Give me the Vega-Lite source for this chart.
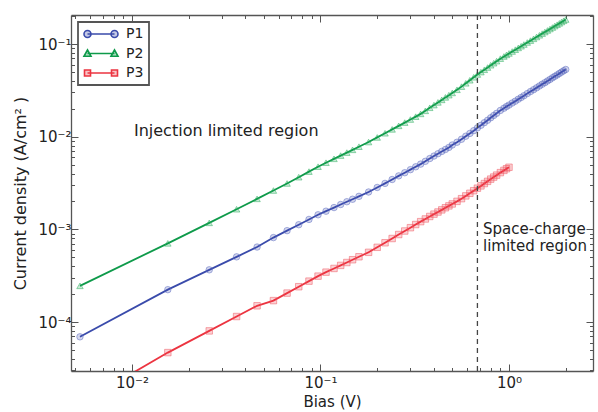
{
  "$schema": "https://vega.github.io/schema/vega-lite/v6.json",
  "width": 522,
  "height": 356,
  "autosize": {"type": "none"},
  "padding": {"left": 71, "top": 15, "right": 5, "bottom": 41},
  "background": "white",
  "config": {"view": {"stroke": null}, "font": "DejaVu Sans"},
  "datasets": {
    "curves": [
      {"series":"P1","bias":0.0053,"density":6.92e-5},{"series":"P1","bias":0.0155,"density":2.234e-4},{"series":"P1","bias":0.0257,"density":3.656e-4},{"series":"P1","bias":0.0359,"density":5.047e-4},{"series":"P1","bias":0.0461,"density":6.442e-4},{"series":"P1","bias":0.0563,"density":8.147e-4},{"series":"P1","bias":0.0665,"density":9.683e-4},{"series":"P1","bias":0.0767,"density":1.122e-3},{"series":"P1","bias":0.0869,"density":1.279e-3},{"series":"P1","bias":0.0971,"density":1.436e-3},{"series":"P1","bias":0.107,"density":1.570e-3},{"series":"P1","bias":0.118,"density":1.718e-3},{"series":"P1","bias":0.128,"density":1.854e-3},{"series":"P1","bias":0.138,"density":1.986e-3},{"series":"P1","bias":0.148,"density":2.113e-3},{"series":"P1","bias":0.16,"density":2.270e-3},{"series":"P1","bias":0.18,"density":2.529e-3},{"series":"P1","bias":0.2,"density":2.831e-3},{"series":"P1","bias":0.22,"density":3.133e-3},{"series":"P1","bias":0.24,"density":3.451e-3},{"series":"P1","bias":0.26,"density":3.776e-3},{"series":"P1","bias":0.28,"density":4.083e-3},{"series":"P1","bias":0.3,"density":4.406e-3},{"series":"P1","bias":0.32,"density":4.732e-3},{"series":"P1","bias":0.34,"density":5.058e-3},{"series":"P1","bias":0.36,"density":5.420e-3},{"series":"P1","bias":0.38,"density":5.808e-3},{"series":"P1","bias":0.4,"density":6.180e-3},{"series":"P1","bias":0.42,"density":6.546e-3},{"series":"P1","bias":0.44,"density":6.934e-3},{"series":"P1","bias":0.46,"density":7.278e-3},{"series":"P1","bias":0.48,"density":7.656e-3},{"series":"P1","bias":0.5,"density":8.128e-3},{"series":"P1","bias":0.53,"density":8.710e-3},{"series":"P1","bias":0.56,"density":9.376e-3},{"series":"P1","bias":0.59,"density":1.012e-2},{"series":"P1","bias":0.62,"density":1.084e-2},{"series":"P1","bias":0.65,"density":1.161e-2},{"series":"P1","bias":0.68,"density":1.245e-2},{"series":"P1","bias":0.71,"density":1.327e-2},{"series":"P1","bias":0.74,"density":1.416e-2},{"series":"P1","bias":0.77,"density":1.503e-2},{"series":"P1","bias":0.8,"density":1.600e-2},{"series":"P1","bias":0.83,"density":1.694e-2},{"series":"P1","bias":0.86,"density":1.786e-2},{"series":"P1","bias":0.9,"density":1.919e-2},{"series":"P1","bias":0.94,"density":2.028e-2},{"series":"P1","bias":0.97,"density":2.113e-2},{"series":"P1","bias":1.0,"density":2.193e-2},{"series":"P1","bias":1.04,"density":2.307e-2},{"series":"P1","bias":1.08,"density":2.415e-2},{"series":"P1","bias":1.12,"density":2.535e-2},{"series":"P1","bias":1.16,"density":2.649e-2},{"series":"P1","bias":1.2,"density":2.767e-2},{"series":"P1","bias":1.25,"density":2.917e-2},{"series":"P1","bias":1.3,"density":3.069e-2},{"series":"P1","bias":1.35,"density":3.214e-2},{"series":"P1","bias":1.4,"density":3.365e-2},{"series":"P1","bias":1.45,"density":3.524e-2},{"series":"P1","bias":1.5,"density":3.681e-2},{"series":"P1","bias":1.55,"density":3.828e-2},{"series":"P1","bias":1.6,"density":3.990e-2},{"series":"P1","bias":1.65,"density":4.150e-2},{"series":"P1","bias":1.7,"density":4.315e-2},{"series":"P1","bias":1.75,"density":4.477e-2},{"series":"P1","bias":1.8,"density":4.634e-2},{"series":"P1","bias":1.85,"density":4.808e-2},{"series":"P1","bias":1.9,"density":4.977e-2},{"series":"P1","bias":1.95,"density":5.140e-2},{"series":"P1","bias":2.0,"density":5.309e-2},
      {"series":"P2","bias":0.0053,"density":2.455e-4},{"series":"P2","bias":0.0155,"density":7.06e-4},{"series":"P2","bias":0.0257,"density":1.175e-3},{"series":"P2","bias":0.0359,"density":1.648e-3},{"series":"P2","bias":0.0461,"density":2.133e-3},{"series":"P2","bias":0.0563,"density":2.624e-3},{"series":"P2","bias":0.0665,"density":3.126e-3},{"series":"P2","bias":0.0767,"density":3.656e-3},{"series":"P2","bias":0.0869,"density":4.198e-3},{"series":"P2","bias":0.0971,"density":4.742e-3},{"series":"P2","bias":0.107,"density":5.236e-3},{"series":"P2","bias":0.118,"density":5.768e-3},{"series":"P2","bias":0.128,"density":6.252e-3},{"series":"P2","bias":0.138,"density":6.730e-3},{"series":"P2","bias":0.148,"density":7.211e-3},{"series":"P2","bias":0.16,"density":7.798e-3},{"series":"P2","bias":0.18,"density":8.750e-3},{"series":"P2","bias":0.2,"density":9.817e-3},{"series":"P2","bias":0.22,"density":1.089e-2},{"series":"P2","bias":0.24,"density":1.199e-2},{"series":"P2","bias":0.26,"density":1.309e-2},{"series":"P2","bias":0.28,"density":1.419e-2},{"series":"P2","bias":0.3,"density":1.531e-2},{"series":"P2","bias":0.32,"density":1.644e-2},{"series":"P2","bias":0.34,"density":1.762e-2},{"series":"P2","bias":0.36,"density":1.901e-2},{"series":"P2","bias":0.38,"density":2.051e-2},{"series":"P2","bias":0.4,"density":2.193e-2},{"series":"P2","bias":0.42,"density":2.344e-2},{"series":"P2","bias":0.44,"density":2.495e-2},{"series":"P2","bias":0.46,"density":2.655e-2},{"series":"P2","bias":0.48,"density":2.805e-2},{"series":"P2","bias":0.5,"density":2.965e-2},{"series":"P2","bias":0.53,"density":3.206e-2},{"series":"P2","bias":0.56,"density":3.467e-2},{"series":"P2","bias":0.59,"density":3.767e-2},{"series":"P2","bias":0.62,"density":4.064e-2},{"series":"P2","bias":0.65,"density":4.375e-2},{"series":"P2","bias":0.68,"density":4.688e-2},{"series":"P2","bias":0.71,"density":4.977e-2},{"series":"P2","bias":0.74,"density":5.272e-2},{"series":"P2","bias":0.77,"density":5.572e-2},{"series":"P2","bias":0.8,"density":5.902e-2},{"series":"P2","bias":0.83,"density":6.209e-2},{"series":"P2","bias":0.86,"density":6.531e-2},{"series":"P2","bias":0.9,"density":6.950e-2},{"series":"P2","bias":0.94,"density":7.337e-2},{"series":"P2","bias":0.97,"density":7.630e-2},{"series":"P2","bias":1.0,"density":7.912e-2},{"series":"P2","bias":1.04,"density":8.299e-2},{"series":"P2","bias":1.08,"density":8.679e-2},{"series":"P2","bias":1.12,"density":9.076e-2},{"series":"P2","bias":1.16,"density":9.462e-2},{"series":"P2","bias":1.2,"density":9.870e-2},{"series":"P2","bias":1.25,"density":0.1038},{"series":"P2","bias":1.3,"density":0.1088},{"series":"P2","bias":1.35,"density":0.1138},{"series":"P2","bias":1.4,"density":0.1190},{"series":"P2","bias":1.45,"density":0.1241},{"series":"P2","bias":1.5,"density":0.1295},{"series":"P2","bias":1.55,"density":0.1347},{"series":"P2","bias":1.6,"density":0.1400},{"series":"P2","bias":1.65,"density":0.1452},{"series":"P2","bias":1.7,"density":0.1506},{"series":"P2","bias":1.75,"density":0.1562},{"series":"P2","bias":1.8,"density":0.1615},{"series":"P2","bias":1.85,"density":0.1670},{"series":"P2","bias":1.9,"density":0.1727},{"series":"P2","bias":1.95,"density":0.1781},{"series":"P2","bias":2.0,"density":0.1837},
      {"series":"P3","bias":0.0053,"density":1.318e-5},{"series":"P3","bias":0.0155,"density":4.677e-5},{"series":"P3","bias":0.0257,"density":8.017e-5},{"series":"P3","bias":0.0359,"density":1.146e-4},{"series":"P3","bias":0.0461,"density":1.496e-4},{"series":"P3","bias":0.0563,"density":1.702e-4},{"series":"P3","bias":0.0665,"density":2.051e-4},{"series":"P3","bias":0.0767,"density":2.404e-4},{"series":"P3","bias":0.0869,"density":2.761e-4},{"series":"P3","bias":0.0971,"density":3.126e-4},{"series":"P3","bias":0.107,"density":3.451e-4},{"series":"P3","bias":0.118,"density":3.784e-4},{"series":"P3","bias":0.128,"density":4.083e-4},{"series":"P3","bias":0.138,"density":4.385e-4},{"series":"P3","bias":0.148,"density":4.699e-4},{"series":"P3","bias":0.16,"density":5.058e-4},{"series":"P3","bias":0.18,"density":5.649e-4},{"series":"P3","bias":0.2,"density":6.397e-4},{"series":"P3","bias":0.22,"density":7.161e-4},{"series":"P3","bias":0.24,"density":7.962e-4},{"series":"P3","bias":0.26,"density":8.790e-4},{"series":"P3","bias":0.28,"density":9.594e-4},{"series":"P3","bias":0.3,"density":1.042e-3},{"series":"P3","bias":0.32,"density":1.127e-3},{"series":"P3","bias":0.34,"density":1.211e-3},{"series":"P3","bias":0.36,"density":1.294e-3},{"series":"P3","bias":0.38,"density":1.377e-3},{"series":"P3","bias":0.4,"density":1.459e-3},{"series":"P3","bias":0.42,"density":1.538e-3},{"series":"P3","bias":0.44,"density":1.622e-3},{"series":"P3","bias":0.46,"density":1.710e-3},{"series":"P3","bias":0.48,"density":1.791e-3},{"series":"P3","bias":0.5,"density":1.879e-3},{"series":"P3","bias":0.53,"density":2.004e-3},{"series":"P3","bias":0.56,"density":2.143e-3},{"series":"P3","bias":0.59,"density":2.296e-3},{"series":"P3","bias":0.62,"density":2.449e-3},{"series":"P3","bias":0.65,"density":2.612e-3},{"series":"P3","bias":0.68,"density":2.780e-3},{"series":"P3","bias":0.71,"density":2.944e-3},{"series":"P3","bias":0.74,"density":3.119e-3},{"series":"P3","bias":0.77,"density":3.296e-3},{"series":"P3","bias":0.8,"density":3.483e-3},{"series":"P3","bias":0.83,"density":3.664e-3},{"series":"P3","bias":0.86,"density":3.846e-3},{"series":"P3","bias":0.9,"density":4.093e-3},{"series":"P3","bias":0.94,"density":4.325e-3},{"series":"P3","bias":0.97,"density":4.508e-3},{"series":"P3","bias":1.0,"density":4.677e-3}
    ],
    "notes": [
      {"bias": 0.01025, "density": 0.0115, "label": "Injection limited region", "size": 16},
      {"bias": 0.728, "density": 0.00102, "label": "Space-charge", "size": 15},
      {"bias": 0.728, "density": 0.000655, "label": "limited region", "size": 15}
    ],
    "divider": [{"bias": 0.68}]
  },
  "layer": [
    {
      "data": {"name": "curves"},
      "mark": {"type": "line", "strokeWidth": 1.8, "clip": true},
      "encoding": {
        "x": {
          "field": "bias", "type": "quantitative",
          "scale": {"type": "log", "domain": [0.00475, 2.79], "nice": false},
          "axis": {
            "orient": "bottom",
            "values": [0.005,0.006,0.007,0.008,0.009,0.01,0.02,0.03,0.04,0.05,0.06,0.07,0.08,0.09,0.1,0.2,0.3,0.4,0.5,0.6,0.7,0.8,0.9,1,2],
            "labelExpr": "datum.value === 0.01 ? '10⁻²' : datum.value === 0.1 ? '10⁻¹' : datum.value === 1 ? '10⁰' : ''",
            "labelFontSize": 15, "labelColor": "#222", "labelPadding": 11, "labelFlush": false, "labelOverlap": false, "labelBound": false,
            "tickSize": {"condition": {"test": "indexof([0.01,0.1,1], datum.value) >= 0", "value": -7}, "value": -3.5},
            "tickColor": "#555", "tickWidth": 1,
            "domainColor": "#555", "domainWidth": 1.3, "grid": false,
            "title": "Bias (V)", "titleFontSize": 15, "titleFontWeight": "normal", "titleColor": "#222", "titlePadding": 1
          }
        },
        "y": {
          "field": "density", "type": "quantitative",
          "scale": {"type": "log", "domain": [2.96e-5, 0.2056], "nice": false},
          "axis": {
            "orient": "left",
            "values": [3e-5,4e-5,5e-5,6e-5,7e-5,8e-5,9e-5,1e-4,2e-4,3e-4,4e-4,5e-4,6e-4,7e-4,8e-4,9e-4,1e-3,2e-3,3e-3,4e-3,5e-3,6e-3,7e-3,8e-3,9e-3,0.01,0.02,0.03,0.04,0.05,0.06,0.07,0.08,0.09,0.1,0.2],
            "labelExpr": "datum.value === 0.1 ? '10⁻¹' : datum.value === 0.01 ? '10⁻²' : datum.value === 0.001 ? '10⁻³' : datum.value === 0.0001 ? '10⁻⁴' : ''",
            "labelFontSize": 15, "labelColor": "#222", "labelPadding": 7, "labelFlush": false, "labelOverlap": false, "labelBound": false,
            "tickSize": {"condition": {"test": "indexof([0.0001,0.001,0.01,0.1], datum.value) >= 0", "value": -7}, "value": -3.5},
            "tickColor": "#555", "tickWidth": 1,
            "domainColor": "#555", "domainWidth": 1.3, "grid": false,
            "title": "Current density (A/cm² )", "titleFontSize": 16, "titleFontWeight": "normal", "titleColor": "#222", "titlePadding": 9
          }
        },
        "color": {
          "field": "series", "type": "nominal",
          "scale": {"domain": ["P1", "P2", "P3"], "range": ["#3a4bab", "#0e9a4a", "#ec3440"]},
          "legend": {
            "title": null, "orient": "top-left", "offset": 7, "padding": 5,
            "strokeColor": "#555", "fillColor": "white", "cornerRadius": 0,
            "symbolSize": 100, "labelOffset": 29, "rowPadding": 5.5,
            "labelFontSize": 14, "labelColor": "#222",
            "encode": {
              "legend": {"update": {"strokeWidth": {"value": 1.8}}},
              "symbols": {"update": {
                "shape": {"signal": "datum.value === 'P1' ? 'M-0.5,0H4.9M-1.2,0A0.7,0.7 0 1,0 0.2,0A0.7,0.7 0 1,0 -1.2,0M4.2,0A0.7,0.7 0 1,0 5.6,0A0.7,0.7 0 1,0 4.2,0' : datum.value === 'P2' ? 'M-0.5,0H4.9M-1.2,0.55L-0.5,-0.7L0.2,0.55ZM4.2,0.55L4.9,-0.7L5.6,0.55Z' : 'M-0.5,0H4.9M-1.1,-0.6H0.1V0.6H-1.1ZM4.3,-0.6H5.5V0.6H4.3Z'"},
                "fill": {"scale": "color", "field": "value"},
                "fillOpacity": {"value": 0.3},
                "stroke": {"scale": "color", "field": "value"},
                "strokeWidth": {"value": 1.6},
                "opacity": {"value": 1}
              }}
            }
          }
        }
      }
    },
    {
      "data": {"name": "curves"},
      "transform": [{"filter": "datum.series === 'P1'"}],
      "mark": {"type": "point", "shape": "circle", "filled": true, "size": 42, "fill": "#3a4bab", "fillOpacity": 0.22, "stroke": "#5a6ac0", "strokeOpacity": 0.5, "strokeWidth": 1, "clip": true},
      "encoding": {
        "x": {
          "field": "bias", "type": "quantitative",
          "axis": {
            "orient": "top",
            "values": [0.005,0.006,0.007,0.008,0.009,0.01,0.02,0.03,0.04,0.05,0.06,0.07,0.08,0.09,0.1,0.2,0.3,0.4,0.5,0.6,0.7,0.8,0.9,1,2],
            "labels": false, "title": null, "grid": false,
            "tickSize": {"condition": {"test": "indexof([0.01,0.1,1], datum.value) >= 0", "value": -7}, "value": -3.5},
            "tickColor": "#555", "tickWidth": 1, "domainColor": "#555", "domainWidth": 1.3
          }
        },
        "y": {
          "field": "density", "type": "quantitative",
          "axis": {
            "orient": "right",
            "values": [3e-5,4e-5,5e-5,6e-5,7e-5,8e-5,9e-5,1e-4,2e-4,3e-4,4e-4,5e-4,6e-4,7e-4,8e-4,9e-4,1e-3,2e-3,3e-3,4e-3,5e-3,6e-3,7e-3,8e-3,9e-3,0.01,0.02,0.03,0.04,0.05,0.06,0.07,0.08,0.09,0.1,0.2],
            "labels": false, "title": null, "grid": false,
            "tickSize": {"condition": {"test": "indexof([0.0001,0.001,0.01,0.1], datum.value) >= 0", "value": -7}, "value": -3.5},
            "tickColor": "#555", "tickWidth": 1, "domainColor": "#555", "domainWidth": 1.3
          }
        }
      }
    },
    {
      "data": {"name": "curves"},
      "transform": [{"filter": "datum.series === 'P2'"}],
      "mark": {"type": "point", "shape": "triangle-up", "filled": true, "size": 42, "fill": "#0e9a4a", "fillOpacity": 0.22, "stroke": "#2db060", "strokeOpacity": 0.5, "strokeWidth": 1, "clip": true},
      "encoding": {
        "x": {"field": "bias", "type": "quantitative", "axis": null},
        "y": {"field": "density", "type": "quantitative", "axis": null}
      }
    },
    {
      "data": {"name": "curves"},
      "transform": [{"filter": "datum.series === 'P3'"}],
      "mark": {"type": "point", "shape": "square", "filled": true, "size": 42, "fill": "#ec3440", "fillOpacity": 0.22, "stroke": "#f05560", "strokeOpacity": 0.5, "strokeWidth": 1, "clip": true},
      "encoding": {
        "x": {"field": "bias", "type": "quantitative", "axis": null},
        "y": {"field": "density", "type": "quantitative", "axis": null}
      }
    },
    {
      "data": {"name": "divider"},
      "mark": {"type": "rule", "strokeDash": [5, 4], "color": "#444", "strokeWidth": 1.3},
      "encoding": {"x": {"field": "bias", "type": "quantitative", "axis": null}}
    },
    {
      "data": {"name": "notes"},
      "mark": {"type": "text", "align": "left", "baseline": "middle", "color": "#222"},
      "encoding": {
        "x": {"field": "bias", "type": "quantitative", "axis": null},
        "y": {"field": "density", "type": "quantitative", "axis": null},
        "text": {"field": "label"},
        "size": {"field": "size", "type": "quantitative", "scale": null}
      }
    }
  ],
  "resolve": {"axis": {"x": "independent", "y": "independent"}}
}
